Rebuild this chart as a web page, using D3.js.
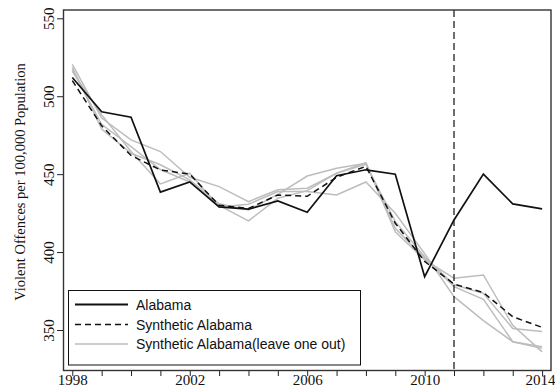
<!DOCTYPE html>
<html lang="en">
<head>
<meta charset="UTF-8">
<title>Alabama synthetic control</title>
<style>
  body { margin: 0; background: #fff; }
  svg { display: block; }
  .tick text { font-family: "Liberation Serif", "Times New Roman", serif; font-size: 15px; fill: #111; }
  .tick line { stroke: #222; stroke-width: 1; }
  .legend text { font-family: "Liberation Sans", Arial, sans-serif; font-size: 14px; fill: #111; }
</style>
</head>
<body>
<svg width="555" height="385"></svg>
<script src="https://d3js.org/d3.v7.min.js"></script>
<script>
const years = d3.range(1998, 2015);
const labelYears = [1998, 2002, 2006, 2010, 2014];
const yTicks = [350, 400, 450, 500, 550];
const treatYear = 2011;

const alabama = [512, 490, 486.5, 438.5, 445, 429, 427.5, 432.8, 425.6, 449, 452.8, 450, 384.2, 420.6, 450, 430.9, 427.7];
const synthetic = [510, 481, 462, 452.7, 450, 430, 428, 436.6, 435.8, 448, 455, 418.5, 394, 379.5, 374, 358.5, 351.7];
// leave-one-out runs
const loo1 = [520.5, 486, 472, 464.5, 448, 442, 432.4, 440, 441, 450.6, 457.4, 413, 395, 383.2, 385.3, 353, 336];
const loo2 = [518.5, 479, 463.4, 456, 446.3, 431, 427, 437, 448.8, 453.8, 457, 415.3, 396, 377.8, 369.7, 342.5, 339.3];
const loo3 = [517, 482, 467.7, 453, 445, 430, 420, 434.5, 439.4, 450.6, 456.3, 419.5, 397, 379, 373.5, 351, 349];
const loo4 = [516, 488, 464.5, 443.7, 450.6, 429, 430.7, 438.8, 438.8, 436.6, 445, 424.9, 399, 371.4, 356, 342.5, 338.2];
const leaveOneOut = [loo1, loo2, loo3, loo4];

const legendLabels = ["Alabama", "Synthetic Alabama", "Synthetic Alabama(leave one out)"];

const svg = d3.select("svg");

// plot region
const frame = {left: 63.5, right: 551, top: 10, bottom: 370.5};

const x = d3.scaleLinear().domain([1998, 2014]).range([72.3, 542.1]);
const y = d3.scaleLinear().domain([350, 550]).range([330, 18.3]);

const line = d3.line()
    .x((d, i) => x(years[i]))
    .y(d => y(d));

// axes
const xAxis = svg.append("g")
    .attr("transform", `translate(0,${frame.bottom})`)
    .call(d3.axisBottom(x)
        .tickValues(years)
        .tickSize(5.5)
        .tickFormat(d => labelYears.includes(d) ? d : ""));
xAxis.select(".domain").remove();
xAxis.selectAll(".tick text").attr("y", 4).attr("dy", "0.71em");
// last label sits against the right edge
xAxis.selectAll(".tick text").filter(d => d === 2014).attr("text-anchor", "end").attr("x", 13);

const yAxis = svg.append("g")
    .attr("transform", `translate(${frame.left},0)`)
    .call(d3.axisLeft(y).tickValues(yTicks).tickSize(6.5));
yAxis.select(".domain").remove();
yAxis.selectAll(".tick text")
    .attr("x", null).attr("dy", null)
    .attr("text-anchor", "middle")
    .attr("transform", "translate(-10,0) rotate(-90)");

// y title
svg.append("text")
    .attr("transform", "translate(25,182) rotate(-90)")
    .attr("text-anchor", "middle")
    .style("font-family", "'Liberation Serif', 'Times New Roman', serif")
    .style("font-size", "14.5px")
    .attr("fill", "#111")
    .text("Violent Offences per 100,000 Population");

// lines
svg.append("g").selectAll("path")
    .data(leaveOneOut)
    .join("path")
    .attr("d", line)
    .attr("fill", "none")
    .attr("stroke", "#bdbdbd")
    .attr("stroke-width", 1.5);

svg.append("path")
    .attr("d", line(synthetic))
    .attr("fill", "none")
    .attr("stroke", "#111")
    .attr("stroke-width", 1.5)
    .attr("stroke-dasharray", "6,4");

svg.append("path")
    .attr("d", line(alabama))
    .attr("fill", "none")
    .attr("stroke", "#111")
    .attr("stroke-width", 1.7);

// treatment year
svg.append("line")
    .attr("x1", x(treatYear)).attr("x2", x(treatYear))
    .attr("y1", frame.top).attr("y2", frame.bottom)
    .attr("stroke", "#222")
    .attr("stroke-width", 1.3)
    .attr("stroke-dasharray", "7,4");

// frame
svg.append("rect")
    .attr("x", frame.left).attr("y", frame.top)
    .attr("width", frame.right - frame.left)
    .attr("height", frame.bottom - frame.top)
    .attr("fill", "none")
    .attr("stroke", "#333")
    .attr("stroke-width", 1.4);

// legend
const legend = svg.append("g").attr("class", "legend");
legend.append("rect")
    .attr("x", 68.5).attr("y", 290.5)
    .attr("width", 292).attr("height", 74.5)
    .attr("fill", "#fff")
    .attr("stroke", "#111")
    .attr("stroke-width", 1);

const legendStyles = [
    {stroke: "#111", width: 1.8, dash: null},
    {stroke: "#111", width: 1.5, dash: "6,4"},
    {stroke: "#bdbdbd", width: 1.5, dash: null}
];
const rowY = [304.5, 324.5, 344];

legendLabels.forEach((lab, i) => {
    legend.append("line")
        .attr("x1", 75).attr("x2", 128)
        .attr("y1", rowY[i]).attr("y2", rowY[i])
        .attr("stroke", legendStyles[i].stroke)
        .attr("stroke-width", legendStyles[i].width)
        .attr("stroke-dasharray", legendStyles[i].dash);
    legend.append("text")
        .attr("x", 136).attr("y", rowY[i] + 5)
        .text(lab);
});
</script>
</body>
</html>
